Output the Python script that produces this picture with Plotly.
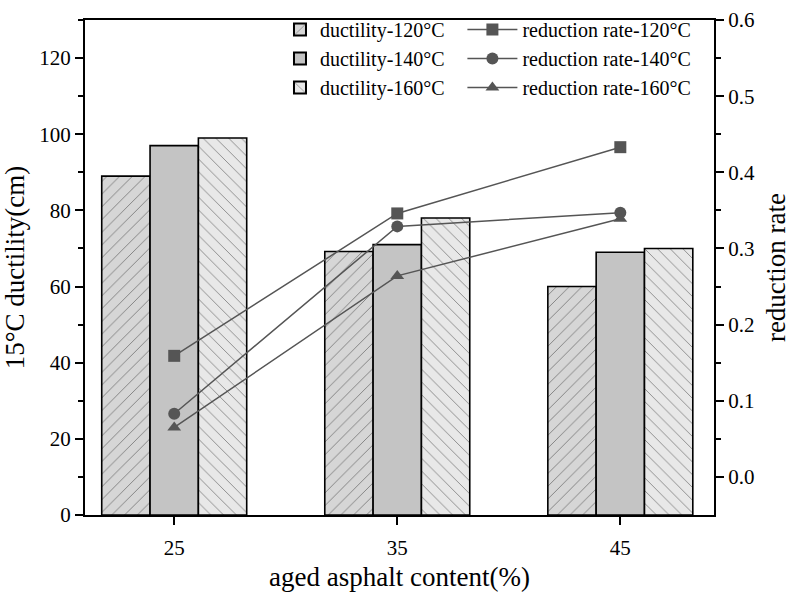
import plotly.graph_objects as go

content = [25, 35, 45]
ductility_120 = [89, 69.2, 60]
ductility_140 = [97, 71, 69]
ductility_160 = [99, 78, 70]
rate_120 = [0.159, 0.346, 0.433]
rate_140 = [0.083, 0.329, 0.347]
rate_160 = [0.065, 0.264, 0.339]

FONT = "Times New Roman, Liberation Serif, DejaVu Serif, serif"
fig = go.Figure()

bar_specs = [
    ("ductility-120°C", ductility_120, "#d6d6d6", "/"),
    ("ductility-140°C", ductility_140, "#c4c4c4", ""),
    ("ductility-160°C", ductility_160, "#e8e8e8", "\\"),
]
for name, vals, col, shp in bar_specs:
    fig.add_trace(go.Bar(
        x=content, y=vals, name=name, legend="legend",
        marker=dict(color=col, line=dict(color="black", width=1.6),
                    pattern=dict(shape=shp, fgcolor="#222222", bgcolor=col, size=9, solidity=0.1)),
    ))

line_specs = [
    ("reduction rate-120°C", rate_120, "square"),
    ("reduction rate-140°C", rate_140, "circle"),
    ("reduction rate-160°C", rate_160, "triangle-up"),
]
for name, vals, sym in line_specs:
    fig.add_trace(go.Scatter(
        x=content, y=vals, name=name, yaxis="y2", legend="legend2",
        mode="lines+markers",
        line=dict(color="#555555", width=1.5),
        marker=dict(symbol=sym, size=12, color="#555555"),
    ))

axis_font = dict(family=FONT, size=21, color="black")
title_font = dict(family=FONT, size=27, color="black")
fig.update_layout(
    width=800, height=597,
    margin=dict(l=85, r=86, t=8, b=82),
    plot_bgcolor="white", paper_bgcolor="white",
    barmode="group", bargap=0.35, bargroupgap=0,
    font=dict(family=FONT, size=21, color="black"),
    xaxis=dict(
        range=[21, 49.2], tickvals=content, ticktext=[str(c) for c in content],
        showline=True, linecolor="black", linewidth=2, mirror=True,
        ticks="outside", ticklen=8, tickwidth=1.5, tickcolor="black",
        ticklabelstandoff=5,
        showgrid=False, zeroline=False, tickfont=axis_font,
        title=dict(text="aged asphalt content(%)", font=title_font, standoff=8),
    ),
    yaxis=dict(
        range=[0, 130], tickvals=[0, 20, 40, 60, 80, 100, 120],
        showline=True, linecolor="black", linewidth=2,
        ticks="outside", ticklen=8, tickwidth=1.5, tickcolor="black",
        minor=dict(tickvals=[10, 30, 50, 70, 90, 110, 130], ticks="outside", ticklen=5, tickwidth=1.5, tickcolor="black"),
        showgrid=False, zeroline=False, tickfont=axis_font,
        title=dict(text="15°C ductility(cm)", font=title_font, standoff=8),
    ),
    yaxis2=dict(
        overlaying="y", side="right", range=[-0.05, 0.6],
        tickvals=[0.0, 0.1, 0.2, 0.3, 0.4, 0.5, 0.6], ticktext=["0.0", "0.1", "0.2", "0.3", "0.4", "0.5", "0.6"],
        showline=True, linecolor="black", linewidth=2,
        ticks="outside", ticklen=8, tickwidth=1.5, tickcolor="black",
        minor=dict(tickvals=[0.05, 0.15, 0.25, 0.35, 0.45, 0.55], ticks="outside", ticklen=5, tickwidth=1.5, tickcolor="black"),
        showgrid=False, zeroline=False, tickfont=axis_font,
        title=dict(text="reduction rate", font=title_font, standoff=12),
    ),
    legend=dict(x=0.31, y=1.02, xanchor="left", yanchor="top", bgcolor="rgba(0,0,0,0)",
                font=dict(family=FONT, size=20), tracegroupgap=0, itemsizing="constant"),
    legend2=dict(x=0.6, y=1.02, xanchor="left", yanchor="top", bgcolor="rgba(0,0,0,0)",
                 font=dict(family=FONT, size=20), tracegroupgap=0, itemwidth=50),
    showlegend=True,
)

fig.write_html("out.html")
